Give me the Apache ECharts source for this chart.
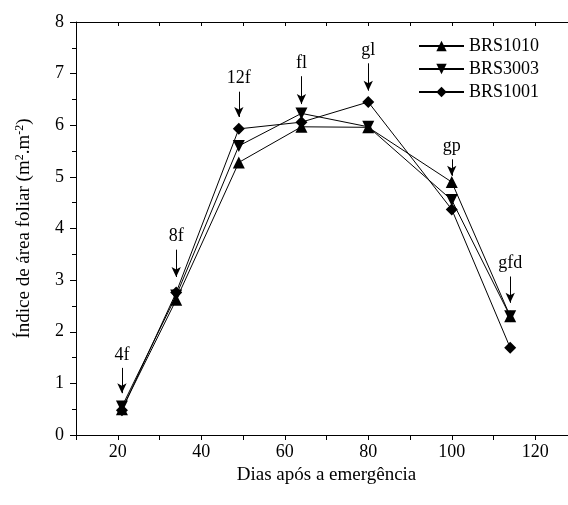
<!DOCTYPE html>
<html>
<head>
<meta charset="utf-8">
<script src="https://cdn.jsdelivr.net/npm/echarts@6/dist/echarts.min.js"></script>
<style>
  html, body { margin: 0; padding: 0; background: #fff; }
  #chart { width: 568px; height: 505px; }
</style>
</head>
<body>
<div id="chart"></div>
<script>
// dias após a emergência
const days = [21, 34, 49, 64, 80, 100, 114];
const brs1010 = [0.50, 2.62, 5.28, 5.97, 5.96, 4.90, 2.30];
const brs3003 = [0.55, 2.70, 5.60, 6.23, 5.97, 4.55, 2.30];
const brs1001 = [0.48, 2.76, 5.93, 6.06, 6.45, 4.37, 1.69];

// estádios fenológicos (setas)
const stageNames = ['4f', '8f', '12f', 'fl', 'gl', 'gp', 'gfd'];
const stageDays = [21, 34, 49, 64, 80, 100, 114];
const arrowTop = [1.30, 3.59, 6.65, 6.95, 7.20, 5.34, 3.07];
const arrowBottom = [0.81, 3.06, 6.16, 6.41, 6.67, 5.02, 2.56];

const FONT = '"Liberation Serif", "Times New Roman", serif';

const chart = echarts.init(document.getElementById('chart'));

const mkSeries = (name, data, symbol, size) => ({
  name,
  type: 'line',
  data: days.map((d, i) => [d, data[i]]),
  symbol,
  symbolSize: size,
  lineStyle: { color: '#000', width: 1 },
  itemStyle: { color: '#000' },
  animation: false,
  z: 3,
});

const arrows = {
  type: 'line',
  data: [],
  silent: true,
  animation: false,
  markLine: {
    silent: true,
    animation: false,
    symbol: ['none', 'arrow'],
    symbolSize: [7, 10],
    lineStyle: { color: '#000', width: 1, type: 'solid' },
    label: {
      show: true,
      position: 'start',
      distance: 4,
      color: '#000',
      fontFamily: FONT,
      fontSize: 18,
      formatter: (p) => p.name,
    },
    data: stageNames.map((n, i) => [
      { name: n, coord: [stageDays[i], arrowTop[i]] },
      { coord: [stageDays[i], arrowBottom[i]] },
    ]),
  },
};

chart.setOption({
  backgroundColor: '#fff',
  animation: false,
  grid: { left: 76, top: 22, bottom: 70, right: -9, outerBoundsMode: 'none', containLabel: false },
  legend: {
    orient: 'vertical',
    left: 413,
    top: 32,
    itemWidth: 45,
    itemHeight: 13,
    itemGap: 5,
    textStyle: { fontFamily: FONT, fontSize: 18, color: '#000' },
    data: ['BRS1010', 'BRS3003', 'BRS1001'],
  },
  xAxis: [
    {
      type: 'value',
      min: 10,
      max: 130,
      interval: 10,
      name: 'Dias após a emergência',
      nameLocation: 'middle',
      nameGap: 25,
      nameTextStyle: { fontFamily: FONT, fontSize: 19, color: '#000' },
      axisLine: { show: true, lineStyle: { color: '#000', width: 1 } },
      axisTick: { show: true, length: 5, lineStyle: { color: '#000' } },
      axisLabel: {
        fontFamily: FONT,
        fontSize: 18,
        color: '#000',
        margin: 8,
        formatter: (v) => (v % 20 === 0 && v <= 120 ? String(v) : ''),
      },
      splitLine: { show: false },
    },
    {
      type: 'value',
      position: 'top',
      min: 10,
      max: 130,
      interval: 10,
      axisLine: { show: true, lineStyle: { color: '#000', width: 1 } },
      axisTick: { show: true, inside: true, length: 4, lineStyle: { color: '#000' } },
      axisLabel: { show: false },
      splitLine: { show: false },
    },
  ],
  yAxis: {
    type: 'value',
    min: 0,
    max: 8,
    interval: 1,
    name: 'Índice de área foliar (m{sup|2}.m{sup|-2})',
    nameLocation: 'middle',
    nameGap: 42,
    nameTextStyle: {
      fontFamily: FONT,
      fontSize: 19,
      color: '#000',
      rich: {
        sup: { fontFamily: FONT, fontSize: 12, color: '#000', verticalAlign: 'top', padding: [0, 0, 8, 0] },
      },
    },
    axisLine: { show: true, lineStyle: { color: '#000', width: 1 } },
    axisTick: { show: true, length: 6, lineStyle: { color: '#000' } },
    minorTick: { show: true, splitNumber: 2, length: 4, lineStyle: { color: '#000' } },
    axisLabel: { fontFamily: FONT, fontSize: 18, color: '#000', margin: 12 },
    splitLine: { show: false },
  },
  series: [
    mkSeries('BRS1010', brs1010, 'triangle', 12),
    mkSeries('BRS3003', brs3003, 'path://M0,0 L10,0 L5,10 Z', 12),
    mkSeries('BRS1001', brs1001, 'diamond', 12),
    arrows,
  ],
});
</script>
</body>
</html>
